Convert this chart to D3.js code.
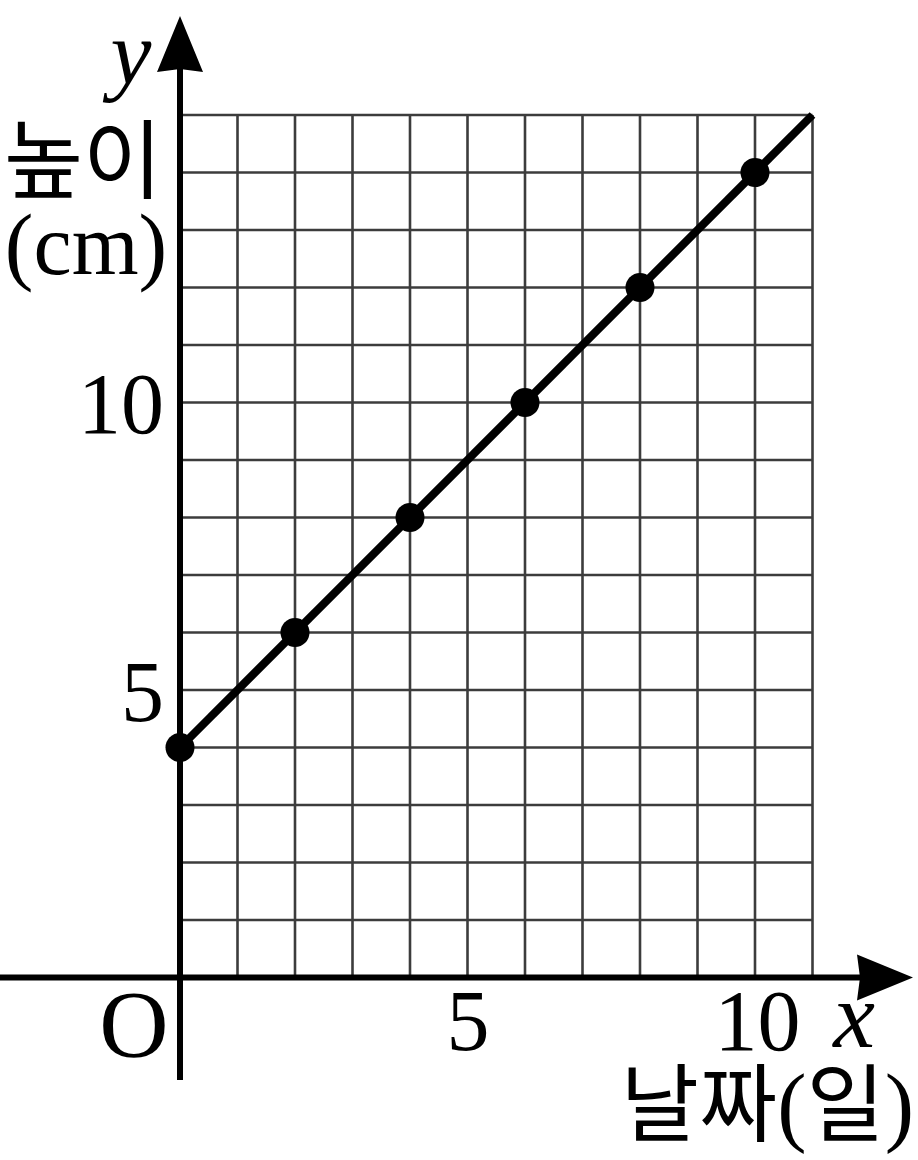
<!DOCTYPE html>
<html>
<head>
<meta charset="utf-8">
<script src="https://cdn.jsdelivr.net/npm/d3@7"></script>
<style>
  html, body { margin: 0; padding: 0; background: #fff; }
  svg { display: block; }
</style>
</head>
<body>
<svg id="chart" width="918" height="1160"></svg>
<script>
// ---- data ----
const days = [0, 2, 4, 6, 8, 10];
const heights = [4, 6, 8, 10, 12, 14];
const lineDays = [0, 11];
const lineHeights = [4, 15];
const xTicks = [5, 10];
const yTicks = [5, 10];
const gridX = d3.range(1, 12);
const gridY = d3.range(1, 16);
const xLabel = "x";
const yLabel = "y";

// ---- layout ----
const svg = d3.select("#chart");
const x = d3.scaleLinear().domain([0, 11]).range([180, 812.5]);
const y = d3.scaleLinear().domain([0, 15]).range([977.5, 115]);

const serif = "'Liberation Serif', 'DejaVu Serif', serif";
const kr = "'Noto Sans CJK KR', sans-serif";

// grid
const grid = svg.append("g").attr("stroke", "#3c3c3c").attr("stroke-width", 2.6);
grid.selectAll("line.v").data(gridX).join("line")
  .attr("x1", d => x(d)).attr("x2", d => x(d))
  .attr("y1", y(0)).attr("y2", y(15));
grid.selectAll("line.h").data(gridY).join("line")
  .attr("x1", x(0)).attr("x2", x(11))
  .attr("y1", d => y(d)).attr("y2", d => y(d));

// axes lines
const axisW = 6;
const xTip = 913, yTip = 16;
svg.append("line").attr("x1", 0).attr("x2", xTip - 40)
  .attr("y1", y(0)).attr("y2", y(0))
  .attr("stroke", "#000").attr("stroke-width", axisW);
svg.append("line").attr("x1", x(0)).attr("x2", x(0))
  .attr("y1", 1080).attr("y2", yTip + 40)
  .attr("stroke", "#000").attr("stroke-width", axisW);
// arrowheads
const aL = 56, aW = 23, notch = 3;
svg.append("path")
  .attr("d", `M${xTip},${y(0)} L${xTip - aL},${y(0) - aW} L${xTip - aL + notch},${y(0)} L${xTip - aL},${y(0) + aW} Z`)
  .attr("fill", "#000");
svg.append("path")
  .attr("d", `M${x(0)},${yTip} L${x(0) - aW},${yTip + aL} L${x(0)},${yTip + aL - notch} L${x(0) + aW},${yTip + aL} Z`)
  .attr("fill", "#000");

// tick labels via d3 axes
const xAxis = svg.append("g")
  .attr("transform", `translate(0,${y(0)})`)
  .call(d3.axisBottom(x).tickValues(xTicks).tickSize(0).tickPadding(0).tickFormat(d3.format("d")));
xAxis.select(".domain").remove();
xAxis.selectAll("text")
  .attr("y", 72).attr("dy", null)
  .attr("font-family", serif).attr("font-size", 86).attr("fill", "#000");
xAxis.selectAll(".tick").filter(d => d === 10).select("text").attr("dx", 2);

const yAxis = svg.append("g")
  .attr("transform", `translate(${x(0)},0)`)
  .call(d3.axisLeft(y).tickValues(yTicks).tickSize(0).tickPadding(0).tickFormat(d3.format("d")));
yAxis.select(".domain").remove();
yAxis.selectAll("text")
  .attr("x", -16).attr("dy", "0.35em")
  .attr("font-family", serif).attr("font-size", 86).attr("fill", "#000");

// origin
svg.append("text").attr("x", 134).attr("y", 1057)
  .attr("text-anchor", "middle").attr("font-family", serif).attr("font-size", 96)
  .text("O");

// axis letters
svg.append("text").attr("x", 854).attr("y", 1047)
  .attr("text-anchor", "middle").attr("font-family", serif).attr("font-style", "italic").attr("font-size", 94)
  .text(xLabel);
svg.append("text").attr("x", 131).attr("y", 84)
  .attr("text-anchor", "middle").attr("font-family", serif).attr("font-style", "italic").attr("font-size", 92)
  .text(yLabel);

// y title
svg.append("text").attr("x", 83).attr("y", 192)
  .attr("text-anchor", "middle").attr("font-family", kr).attr("font-size", 86)
  .text("높이");
svg.append("text").attr("x", 86).attr("y", 274)
  .attr("text-anchor", "middle").attr("font-family", serif).attr("font-size", 86)
  .text("(cm)");

// x title
const xt = svg.append("text").attr("x", 914).attr("y", 1135)
  .attr("text-anchor", "end").attr("font-size", 85);
xt.append("tspan").attr("font-family", kr).text("날짜");
xt.append("tspan").attr("font-family", serif).attr("font-size", 88).text("(");
xt.append("tspan").attr("font-family", kr).text("일");
xt.append("tspan").attr("font-family", serif).attr("font-size", 88).text(")");

// trend line
const line = d3.line().x(d => x(d[0])).y(d => y(d[1]));
svg.append("path")
  .datum(lineDays.map((d, i) => [d, lineHeights[i]]))
  .attr("d", line)
  .attr("fill", "none").attr("stroke", "#000").attr("stroke-width", 8);

// points
svg.selectAll("circle.pt").data(days.map((d, i) => [d, heights[i]])).join("circle")
  .attr("class", "pt")
  .attr("cx", d => x(d[0])).attr("cy", d => y(d[1])).attr("r", 14.5)
  .attr("fill", "#000");
</script>
</body>
</html>
